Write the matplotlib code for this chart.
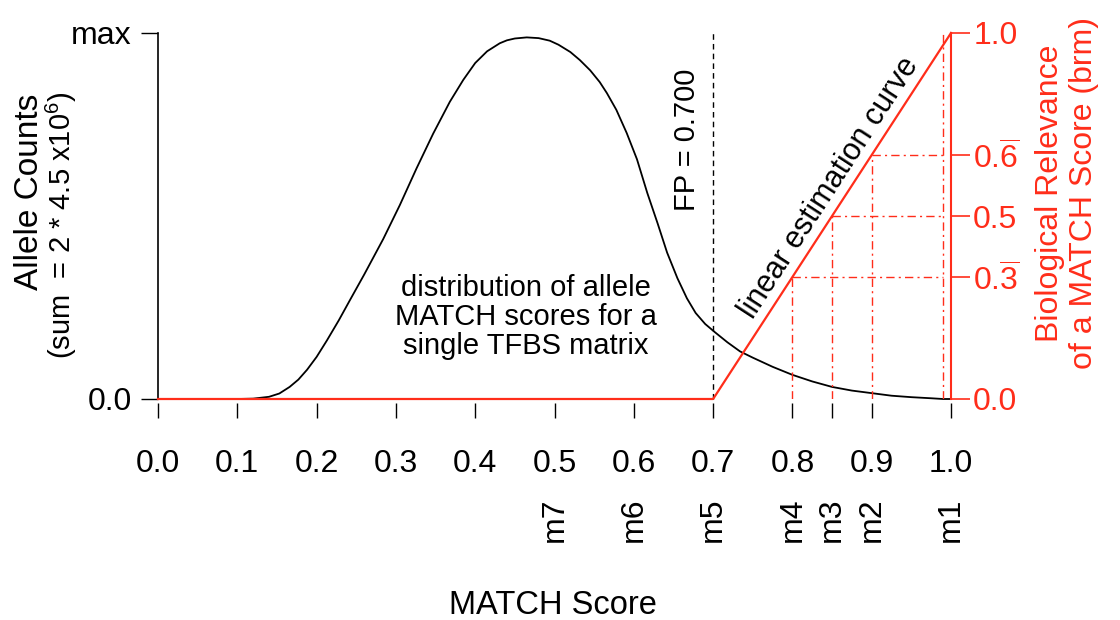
import matplotlib

matplotlib.use("Agg")
import matplotlib.pyplot as plt  # noqa: E402

plt.rcParams["font.family"] = ["Liberation Sans", "DejaVu Sans"]
plt.rcParams["mathtext.fontset"] = "custom"
plt.rcParams["mathtext.rm"] = "Liberation Sans"
plt.rcParams["mathtext.it"] = "Liberation Sans:italic"
plt.rcParams["mathtext.bf"] = "Liberation Sans:bold"

RED = "#ff2d1a"

# distribution of allele MATCH scores (counts relative to max)
score = [0.0, 0.10, 0.12, 0.14, 0.153, 0.166, 0.177, 0.188, 0.2, 0.213,
         0.228, 0.242, 0.26, 0.284, 0.305, 0.326, 0.347, 0.368, 0.385, 0.40,
         0.415, 0.431, 0.44, 0.45, 0.465, 0.48, 0.494, 0.505, 0.52, 0.532,
         0.545, 0.557, 0.566, 0.578, 0.591, 0.604, 0.617, 0.63, 0.642, 0.655,
         0.667, 0.678, 0.69, 0.702, 0.718, 0.734, 0.75, 0.775, 0.8, 0.825,
         0.85, 0.875, 0.9, 0.925, 0.95, 0.975, 0.99, 1.0]
count = [0.0, 0.0, 0.001, 0.006, 0.015, 0.033, 0.053, 0.08, 0.115, 0.16,
         0.215, 0.27, 0.34, 0.437, 0.53, 0.63, 0.725, 0.812, 0.872, 0.918,
         0.95, 0.972, 0.98, 0.985, 0.988, 0.986, 0.979, 0.968, 0.948, 0.926,
         0.898, 0.866, 0.836, 0.79, 0.727, 0.655, 0.563, 0.48, 0.40, 0.33,
         0.275, 0.235, 0.205, 0.183, 0.155, 0.13, 0.113, 0.088, 0.066, 0.048,
         0.033, 0.023, 0.016, 0.009, 0.005, 0.002, 0.0, 0.0]

# linear estimation curve: MATCH score -> brm
lin_score = [0.0, 0.7, 1.0]
lin_brm = [0.0, 0.0, 1.0]

fp_threshold = 0.7

x_ticks = [0.0, 0.1, 0.2, 0.3, 0.4, 0.5, 0.6, 0.7, 0.8, 0.9, 1.0]
x_ticklabels = ["0.0", "0.1", "0.2", "0.3", "0.4", "0.5", "0.6", "0.7",
                "0.8", "0.9", "1.0"]
m_scores = [0.5, 0.6, 0.7, 0.8, 0.85, 0.9, 1.0]
m_labels = ["m7", "m6", "m5", "m4", "m3", "m2", "m1"]

# guide lines from score thresholds to brm values
guide_score = [0.8, 0.85, 0.9, 0.99]
guide_brm = [1 / 3, 0.5, 2 / 3, 1.0]
guide_end = 0.99

brm_ticks = [0.0, 1 / 3, 0.5, 2 / 3, 1.0]
brm_ticklabels = ["0.0", r"0.$\overline{3}$", "0.5", r"0.$\overline{6}$", "1.0"]

fig = plt.figure(figsize=(11.2, 6.2), dpi=100)
ax = fig.add_axes([158 / 1120, 221 / 620, 793 / 1120, 366 / 620])
ax.set_xlim(0, 1)
ax.set_ylim(0, 1)

# allele score distribution
ax.plot(score, count, color="black", lw=1.3, clip_on=False, zorder=2)
ax.plot([fp_threshold, fp_threshold], [0, 1], color="black", lw=1,
        ls=(0, (4, 3)), clip_on=False)

for side in ("top", "right", "bottom"):
    ax.spines[side].set_visible(False)
ax.spines["bottom"].set_position(("outward", 3))
ax.spines["left"].set_bounds(0, 1)
ax.spines["left"].set_linewidth(1.2)

ax.set_xticks(x_ticks, x_ticklabels)
ax.set_xticks([0.85], minor=True)
ax.tick_params(axis="x", which="both", direction="out", length=11, width=1,
               pad=22, labelsize=23)
ax.set_yticks([0, 1], ["0.0", "max"])
ax.tick_params(axis="y", direction="out", length=12, width=1, pad=7,
               labelsize=23)

trans = ax.get_xaxis_transform()
for s, lab in zip(m_scores, m_labels):
    ax.text(s, -0.33, lab, rotation=90, ha="center", va="center",
            fontsize=23, transform=trans)

ax.text(0.667, 0.708, "FP = 0.700", rotation=90, ha="center", va="center",
        fontsize=21)
ax.text(0.464, 0.224, "distribution of allele\nMATCH scores for a\nsingle TFBS matrix",
        ha="center", va="center", multialignment="center", fontsize=21,
        linespacing=1.05)

# biological relevance axis
ax2 = ax.twinx()
ax2.set_ylim(0, 1)
ax2.plot(lin_score, lin_brm, color=RED, lw=1.6, clip_on=False, zorder=3)
dashdot = (0, (6, 3, 1.5, 3))
for s, b in zip(guide_score, guide_brm):
    ax2.plot([s, s], [0, b], color=RED, lw=1, ls=dashdot)
    if b < 1:
        ax2.plot([s, guide_end], [b, b], color=RED, lw=1, ls=dashdot)

for side in ("top", "left", "bottom"):
    ax2.spines[side].set_visible(False)
ax2.spines["right"].set_bounds(0, 1)
ax2.spines["right"].set_color(RED)
ax2.spines["right"].set_linewidth(1.5)
ax2.set_yticks(brm_ticks, brm_ticklabels)
ax2.tick_params(axis="y", colors=RED, direction="out", length=14, width=1.2,
                pad=2, labelsize=23)

ax2.text(0.847, 0.577, "linear estimation curve", rotation=57,
         rotation_mode="anchor", ha="center", va="center", fontsize=22)

# axis titles
fig.text(553 / 1120, 15 / 620, "MATCH Score", ha="center", va="center",
         fontsize=23.5)
fig.text(30 / 1120, (620 - 192) / 620, "Allele Counts", rotation=90,
         ha="center", va="center", fontsize=24)
fig.text(61 / 1120, (620 - 225) / 620, r"(sum  = 2 * 4.5 x10$^{6}$)",
         rotation=90, ha="center", va="center", fontsize=21)
fig.text(1067 / 1120, (620 - 193) / 620,
         "Biological Relevance\nof a MATCH Score (brm)", rotation=90,
         ha="center", va="center", multialignment="center", color=RED,
         fontsize=23, linespacing=1.15)

fig.savefig("out.png", dpi=100)
